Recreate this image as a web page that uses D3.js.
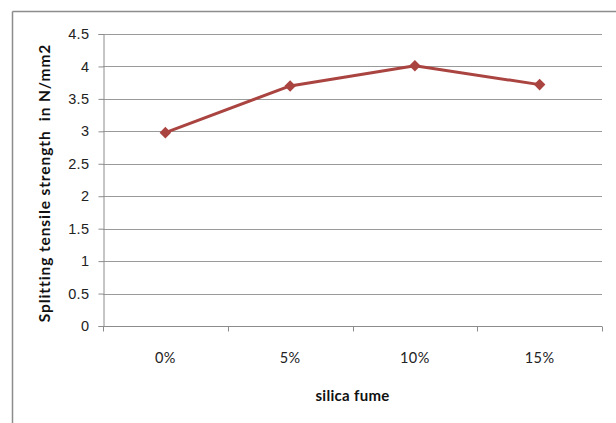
<!DOCTYPE html>
<html>
<head>
<meta charset="utf-8">
<script src="https://cdn.jsdelivr.net/npm/d3@7"></script>
<style>
  html, body { margin: 0; padding: 0; background: #fff; }
  svg { display: block; font-family: Lato, "Open Sans", "Liberation Sans", sans-serif; }
  text { white-space: pre; }
</style>
</head>
<body>
<svg id="chart" width="616" height="423"></svg>
<script>
// Splitting tensile strength vs. silica fume replacement
const categories = ["0%", "5%", "10%", "15%"];
const strength = [2.98, 3.70, 4.01, 3.72];
const yTicks = [0, 0.5, 1, 1.5, 2, 2.5, 3, 3.5, 4, 4.5];
const xTitle = "silica fume";
const yTitle = "Splitting tensile strength  in N/mm2";

const svg = d3.select("#chart");
const W = 616, H = 423;
const plot = { left: 103, right: 602, top: 34, bottom: 326 };

// chart frame (top and left edges visible)
svg.append("line").attr("x1", 12.5).attr("x2", W).attr("y1", 11.5).attr("y2", 11.5)
  .attr("stroke", "#8c8c8c").attr("stroke-width", 1.5);
svg.append("line").attr("x1", 12.5).attr("x2", 12.5).attr("y1", 11.5).attr("y2", H)
  .attr("stroke", "#8c8c8c").attr("stroke-width", 1.5);

const x = d3.scaleBand().domain(categories).range([plot.left, plot.right]);
const y = d3.scaleLinear().domain([0, 4.5]).range([plot.bottom, plot.top]);

// horizontal gridlines
svg.append("g").selectAll("line").data(yTicks.filter(d => d > 0)).join("line")
  .attr("x1", plot.left).attr("x2", plot.right)
  .attr("y1", d => Math.round(y(d)) + 0.5).attr("y2", d => Math.round(y(d)) + 0.5)
  .attr("stroke", "#9a9a9a").attr("stroke-width", 1);

// y axis
const yAxis = svg.append("g").attr("transform", `translate(${plot.left + 0.5},0)`)
  .call(d3.axisLeft(y).tickValues(yTicks).tickSize(5).tickPadding(9).tickFormat(d3.format("")));
yAxis.select(".domain").attr("stroke", "#8c8c8c");
yAxis.selectAll(".tick line").attr("stroke", "#8c8c8c");
yAxis.selectAll(".tick text").attr("font-size", 14.5).attr("fill", "#222")
  .attr("font-family", "inherit").attr("letter-spacing", 0.4);

// x axis with ticks at band boundaries
const xAxisG = svg.append("g").attr("transform", `translate(0,${Math.round(plot.bottom) + 0.5})`);
xAxisG.append("line").attr("x1", plot.left).attr("x2", plot.right)
  .attr("stroke", "#8c8c8c");
const bounds = categories.map(c => x(c)).concat([x(categories[categories.length - 1]) + x.bandwidth()]);
xAxisG.selectAll("line.tk").data(bounds).join("line").attr("class", "tk")
  .attr("x1", d => Math.round(d) + 0.5).attr("x2", d => Math.round(d) + 0.5)
  .attr("y1", 0).attr("y2", 5).attr("stroke", "#8c8c8c");
xAxisG.selectAll("text").data(categories).join("text")
  .attr("x", d => x(d) + x.bandwidth() / 2).attr("y", 36)
  .attr("text-anchor", "middle").attr("font-size", 14.5).attr("fill", "#222")
  .attr("letter-spacing", 0.4)
  .text(d => d);

// axis titles
svg.append("text").attr("x", x(categories[1]) + x.bandwidth()).attr("y", 401)
  .attr("text-anchor", "middle").attr("font-size", 15).attr("font-weight", "bold")
  .attr("fill", "#111").attr("letter-spacing", 0.3).text(xTitle);
svg.append("text")
  .attr("transform", `translate(50,${(plot.top + plot.bottom) / 2 + 3}) rotate(-90)`)
  .attr("text-anchor", "middle").attr("font-size", 15.5).attr("font-weight", "bold")
  .attr("fill", "#111").attr("letter-spacing", 0.9).text(yTitle);

// series line and diamond markers
const color = "#AA4441";
const cx = d => x(d) + x.bandwidth() / 2;
const pts = categories.map((c, i) => [cx(c), y(strength[i])]);
svg.append("path").attr("d", d3.line()(pts))
  .attr("fill", "none").attr("stroke", color).attr("stroke-width", 3)
  .attr("stroke-linejoin", "round");
svg.append("g").selectAll("path").data(pts).join("path")
  .attr("transform", d => `translate(${d[0]},${d[1]})`)
  .attr("d", d3.symbol(d3.symbolDiamond2, 85)())
  .attr("fill", color);
</script>
</body>
</html>
